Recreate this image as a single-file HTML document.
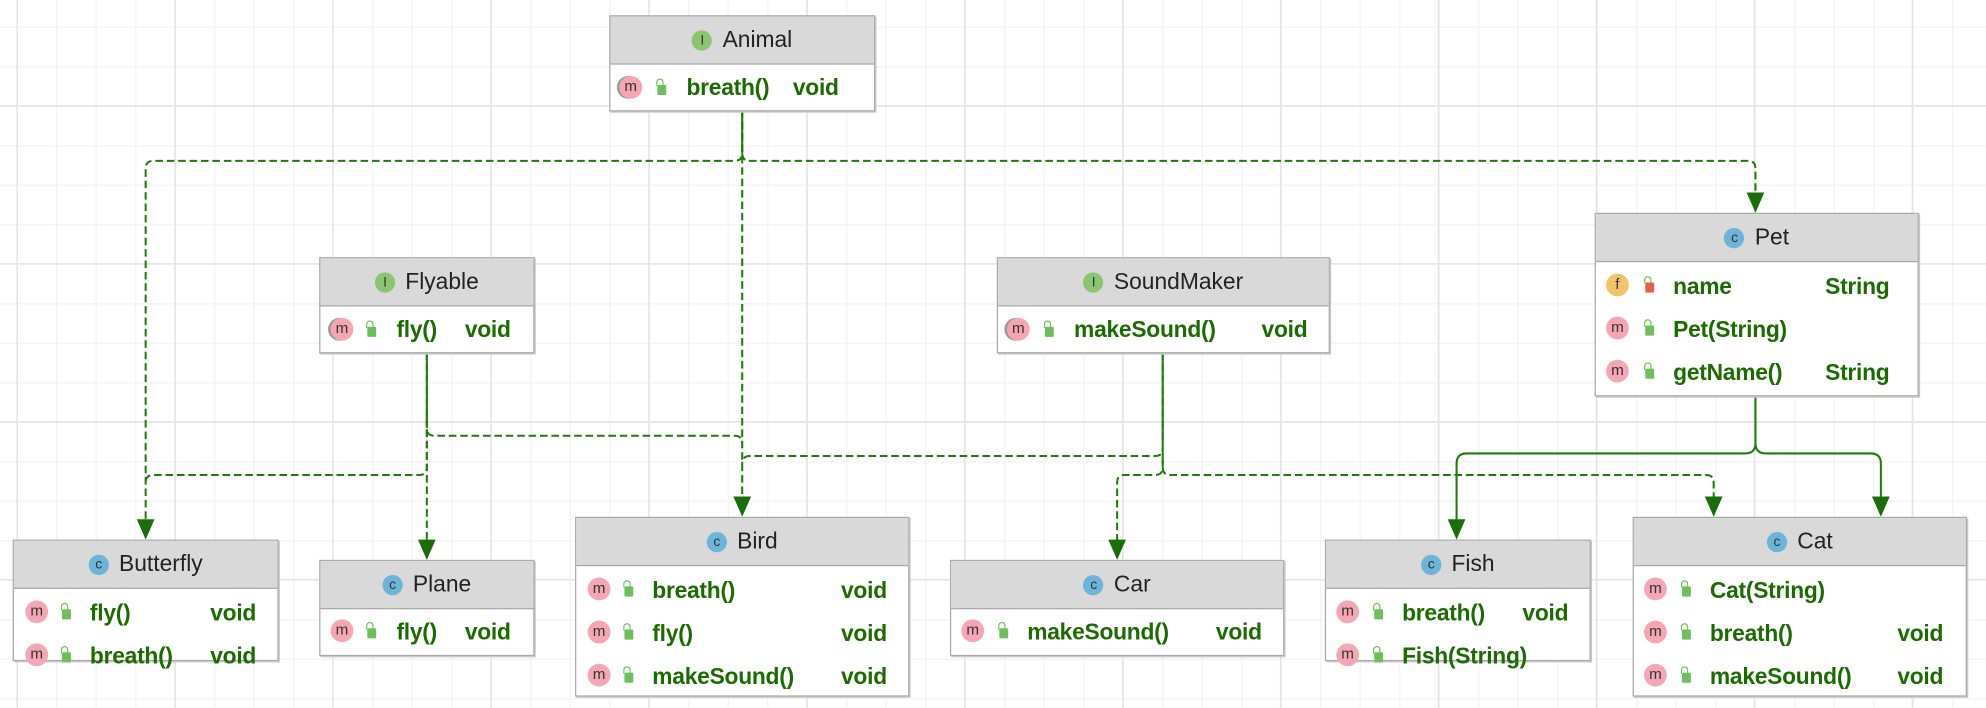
<!DOCTYPE html>
<html><head><meta charset="utf-8"><style>
html,body{margin:0;padding:0;width:1986px;height:708px;overflow:hidden;background:#fff}
#w{position:absolute;left:0;top:0;width:1568px;height:559px;transform:scale(1.26658,1.2666);transform-origin:0 0;
background-color:#fff;
background-image:linear-gradient(#e4e4e4 1px,transparent 1px),linear-gradient(90deg,#e4e4e4 1px,transparent 1px),linear-gradient(#f4f4f4 1px,transparent 1px),linear-gradient(90deg,#f4f4f4 1px,transparent 1px);
background-size:124.7px 124.7px,124.7px 124.7px,31.2px 31.2px,31.2px 31.2px;
background-position:0 83px,13px 0,0 21px,13px 0;font-family:"Liberation Sans",sans-serif}
.b{position:absolute;background:#fff;border:1px solid #a9a9a9;box-shadow:1px 1px 0 #c8c8c8;box-sizing:border-box}
.h{height:37px;background:#d9d9d9;border-bottom:1px solid #a9a9a9;display:flex;align-items:center;justify-content:center;font-size:18px;color:#222}
.ic{display:inline-block;width:16px;height:16px;border-radius:50%;font-size:11px;line-height:16px;text-align:center;color:#333;margin-right:8px}
.I{background:#8cc474}.C{background:#6cb4d8}
.r{position:absolute;height:20px;font-size:18px;font-weight:bold;color:#1a6b00;white-space:nowrap;letter-spacing:-0.2px}
.m{position:absolute;width:18px;height:18px;border-radius:50%;background:#f4a6b4;font-size:12px;line-height:17px;text-align:center;color:#333;font-weight:normal}
.l{position:absolute;width:7px;height:8px;background:#6cbf5a;border-radius:1px}
.l:before{content:"";position:absolute;left:-1px;top:-5px;width:4px;height:5px;border:1.5px solid #6cbf5a;border-bottom:none;border-radius:3px 3px 0 0}
svg{position:absolute;left:0;top:0}
</style></head><body><div id="w">
<svg width="1568" height="559">
<g fill="none" stroke="#1e7a0a" stroke-width="1.6" stroke-dasharray="6,3">
<path d="M586 87 V121 q0 6 -6 6 H121 q-6 0 -6 6 V413"/>
<path d="M586 121 q0 6 6 6 H1380 q6 0 6 6 V154"/>
<path d="M586 87 V395"/>
<path d="M337 278 V338 q0 6 6 6 H580 q6 0 6 6"/>
<path d="M337 330 V369 q0 6 -6 6 H121 q-6 0 -6 6"/>
<path d="M337 330 V429"/>
<path d="M918 278 V354 q0 6 -6 6 H592 q-6 0 -6 6"/>
<path d="M918 354 V369 q0 6 -6 6 H888 q-6 0 -6 6 V429"/>
<path d="M918 360 V369 q0 6 6 6 H1347 q6 0 6 6 V395"/>
</g>
<g fill="none" stroke="#1e7a0a" stroke-width="1.6">
<path d="M586 87 V121"/><path d="M337 278 V330"/><path d="M918 278 V350"/>
<path d="M1386 312 V350 q0 8 -8 8 H1158 q-8 0 -8 8 V413"/>
<path d="M1386 350 q0 8 8 8 H1477 q8 0 8 8 V395"/>
</g>
<g fill="#1a6e0a">
<path d="M108 410 L122 410 L115 426Z"/><path d="M1379 152 L1393 152 L1386 168Z"/>
<path d="M579 392 L593 392 L586 408Z"/><path d="M330 426 L344 426 L337 442Z"/>
<path d="M875 426 L889 426 L882 442Z"/><path d="M1346 392 L1360 392 L1353 408Z"/>
<path d="M1143 410 L1157 410 L1150 426Z"/><path d="M1478 392 L1492 392 L1485 408Z"/>
</g>
</svg>

<div class="b" style="left:481px;top:12px;width:210px;height:76px"><div class="h"><span class="ic I">I</span>Animal</div></div>
<div class="r" style="left:542px;top:59px">breath()</div><div class="r" style="left:626px;top:59px">void</div>
<div class="m" style="left:489px;top:60px;box-shadow:-2px 0 0 #999">m</div><div class="l" style="left:519px;top:67px"></div>

<div class="b" style="left:252px;top:203px;width:170px;height:76px"><div class="h"><span class="ic I">I</span>Flyable</div></div>
<div class="r" style="left:313px;top:250px">fly()</div><div class="r" style="left:367px;top:250px">void</div>
<div class="m" style="left:261px;top:251px;box-shadow:-2px 0 0 #999">m</div><div class="l" style="left:290px;top:258px"></div>

<div class="b" style="left:787px;top:203px;width:263px;height:76px"><div class="h"><span class="ic I">I</span>SoundMaker</div></div>
<div class="r" style="left:848px;top:250px">makeSound()</div><div class="r" style="left:996px;top:250px">void</div>
<div class="m" style="left:795px;top:251px;box-shadow:-2px 0 0 #999">m</div><div class="l" style="left:825px;top:258px"></div>

<div class="b" style="left:1259px;top:168px;width:256px;height:145px"><div class="h"><span class="ic C">c</span>Pet</div></div>
<div class="m" style="left:1268px;top:216px;background:#f2c46a">f</div><div class="l" style="left:1299px;top:223px;background:#e8604a"></div>
<div class="r" style="left:1321px;top:216px">name</div><div class="r" style="left:1441px;top:216px">String</div>
<div class="m" style="left:1268px;top:250px">m</div><div class="l" style="left:1299px;top:257px"></div>
<div class="r" style="left:1321px;top:250px">Pet(String)</div>
<div class="m" style="left:1268px;top:284px">m</div><div class="l" style="left:1299px;top:291px"></div>
<div class="r" style="left:1321px;top:284px">getName()</div><div class="r" style="left:1441px;top:284px">String</div>

<div class="b" style="left:10px;top:426px;width:210px;height:96px"><div class="h"><span class="ic C">c</span>Butterfly</div></div>
<div class="m" style="left:20px;top:474px">m</div><div class="l" style="left:49px;top:481px"></div>
<div class="r" style="left:71px;top:474px">fly()</div><div class="r" style="left:166px;top:474px">void</div>
<div class="m" style="left:20px;top:508px">m</div><div class="l" style="left:49px;top:515px"></div>
<div class="r" style="left:71px;top:508px">breath()</div><div class="r" style="left:166px;top:508px">void</div>

<div class="b" style="left:252px;top:442px;width:170px;height:76px"><div class="h"><span class="ic C">c</span>Plane</div></div>
<div class="m" style="left:261px;top:489px">m</div><div class="l" style="left:290px;top:496px"></div>
<div class="r" style="left:313px;top:489px">fly()</div><div class="r" style="left:367px;top:489px">void</div>

<div class="b" style="left:454px;top:408px;width:264px;height:142px"><div class="h"><span class="ic C">c</span>Bird</div></div>
<div class="m" style="left:464px;top:456px">m</div><div class="l" style="left:493px;top:463px"></div>
<div class="r" style="left:515px;top:456px">breath()</div><div class="r" style="left:664px;top:456px">void</div>
<div class="m" style="left:464px;top:490px">m</div><div class="l" style="left:493px;top:497px"></div>
<div class="r" style="left:515px;top:490px">fly()</div><div class="r" style="left:664px;top:490px">void</div>
<div class="m" style="left:464px;top:524px">m</div><div class="l" style="left:493px;top:531px"></div>
<div class="r" style="left:515px;top:524px">makeSound()</div><div class="r" style="left:664px;top:524px">void</div>

<div class="b" style="left:750px;top:442px;width:264px;height:76px"><div class="h"><span class="ic C">c</span>Car</div></div>
<div class="m" style="left:759px;top:489px">m</div><div class="l" style="left:789px;top:496px"></div>
<div class="r" style="left:811px;top:489px">makeSound()</div><div class="r" style="left:960px;top:489px">void</div>

<div class="b" style="left:1046px;top:426px;width:210px;height:96px"><div class="h"><span class="ic C">c</span>Fish</div></div>
<div class="m" style="left:1055px;top:474px">m</div><div class="l" style="left:1085px;top:481px"></div>
<div class="r" style="left:1107px;top:474px">breath()</div><div class="r" style="left:1202px;top:474px">void</div>
<div class="m" style="left:1055px;top:508px">m</div><div class="l" style="left:1085px;top:515px"></div>
<div class="r" style="left:1107px;top:508px">Fish(String)</div>

<div class="b" style="left:1289px;top:408px;width:264px;height:142px"><div class="h"><span class="ic C">c</span>Cat</div></div>
<div class="m" style="left:1298px;top:456px">m</div><div class="l" style="left:1328px;top:463px"></div>
<div class="r" style="left:1350px;top:456px">Cat(String)</div>
<div class="m" style="left:1298px;top:490px">m</div><div class="l" style="left:1328px;top:497px"></div>
<div class="r" style="left:1350px;top:490px">breath()</div><div class="r" style="left:1498px;top:490px">void</div>
<div class="m" style="left:1298px;top:524px">m</div><div class="l" style="left:1328px;top:531px"></div>
<div class="r" style="left:1350px;top:524px">makeSound()</div><div class="r" style="left:1498px;top:524px">void</div>
</div></body></html>
